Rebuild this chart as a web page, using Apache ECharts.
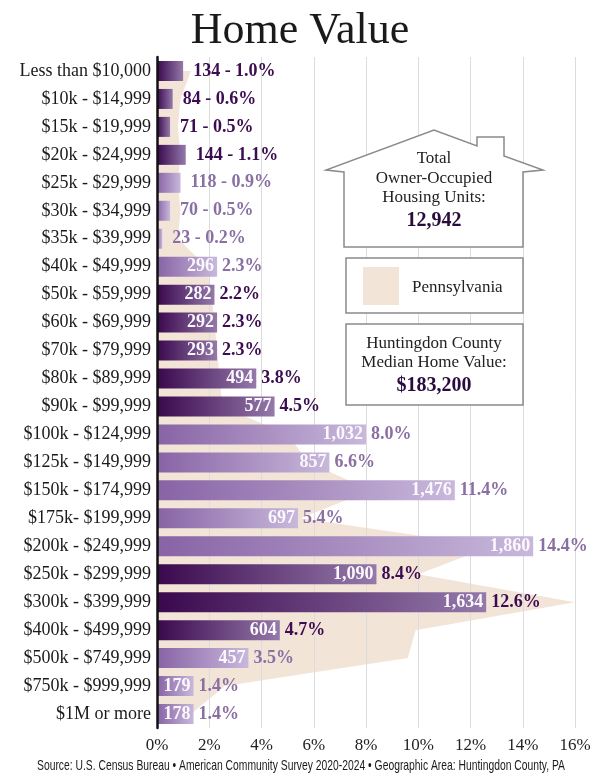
<!DOCTYPE html>
<html>
<head>
<meta charset="utf-8">
<title>Home Value</title>
<script src="https://cdn.jsdelivr.net/npm/echarts@6/dist/echarts.min.js"></script>
<style>
  html, body { margin: 0; padding: 0; background: #fff; }
  #main { width: 600px; height: 783px; }
</style>
</head>
<body>
<div id="main"></div>
<script>
var categories = ['Less than $10,000', '$10k - $14,999', '$15k - $19,999', '$20k - $24,999',
    '$25k - $29,999', '$30k - $34,999', '$35k - $39,999', '$40k - $49,999', '$50k - $59,999',
    '$60k - $69,999', '$70k - $79,999', '$80k - $89,999', '$90k - $99,999', '$100k - $124,999',
    '$125k - $149,999', '$150k - $174,999', '$175k- $199,999', '$200k - $249,999',
    '$250k - $299,999', '$300k - $399,999', '$400k - $499,999', '$500k - $749,999',
    '$750k - $999,999', '$1M or more'];
// Huntingdon County owner-occupied units
var units = [134, 84, 71, 144, 118, 70, 23, 296, 282, 292, 293, 494, 577,
    1032, 857, 1476, 697, 1860, 1090, 1634, 604, 457, 179, 178];
var shares = [1.0, 0.6, 0.5, 1.1, 0.9, 0.5, 0.2, 2.3, 2.2, 2.3, 2.3, 3.8, 4.5,
    8.0, 6.6, 11.4, 5.4, 14.4, 8.4, 12.6, 4.7, 3.5, 1.4, 1.4];
// d = dark bar, l = light bar
var shade = ['d', 'd', 'd', 'd', 'l', 'l', 'l', 'l', 'd', 'd', 'd', 'd', 'd',
    'l', 'l', 'l', 'l', 'l', 'd', 'd', 'd', 'l', 'l', 'l'];
// Pennsylvania share
var paShares = [1.3, 0.9, 0.8, 0.9, 0.8, 0.9, 0.8, 1.9, 2.1, 2.2, 2.3, 2.4, 2.5,
    5.0, 5.8, 8.2, 5.5, 12.8, 10.0, 16.0, 9.9, 9.6, 2.6, 1.3];
var xTicks = [0, 2, 4, 6, 8, 10, 12, 14, 16];
var totalUnits = '12,942';
var medianValue = '$183,200';
var sourceText = 'Source: U.S. Census Bureau \u2022 American Community Survey 2020-2024 \u2022 Geographic Area: Huntingdon County, PA';

var serif = '"Liberation Serif", "DejaVu Serif", serif';
var sans = '"Liberation Sans", "Roboto", sans-serif';
var darkText = '#3b0d50';
var lightText = '#8a6fa3';

var myChart = echarts.init(document.getElementById('main'));

// source line is a condensed face in the original, squeeze it to fit
var ctx = document.createElement('canvas').getContext('2d');
ctx.font = '15px ' + sans;
var sourceScale = 528 / ctx.measureText(sourceText).width;

function barColor(s) {
    if (s === 'd') {
        return new echarts.graphic.LinearGradient(0, 0, 1, 0, [
            { offset: 0, color: '#3a084d' },
            { offset: 1, color: '#9479aa' }
        ]);
    }
    return new echarts.graphic.LinearGradient(0, 0, 1, 0, [
        { offset: 0, color: '#8863a5' },
        { offset: 1, color: '#c8b8db' }
    ]);
}

function fmt(n) {
    return n.toLocaleString('en-US');
}

var barData = shares.map(function (v, i) {
    return { value: v, itemStyle: { color: barColor(shade[i]) } };
});

var labelData = shares.map(function (v, i) {
    return {
        value: v,
        label: {
            color: shade[i] === 'd' ? darkText : lightText,
            distance: i < 7 ? 10 : 5
        }
    };
});

// house outline, legend box and median box on the right
var house = [[344, 172], [326, 170], [434, 130], [477, 146], [477, 137], [504, 137],
    [504, 156], [543, 170], [523, 172], [523, 247], [344, 247]];

option = {
    animation: false,
    backgroundColor: '#fff',
    title: {
        text: 'Home Value',
        left: 'center',
        top: 4,
        textStyle: { fontFamily: serif, fontSize: 44, fontWeight: 'normal', color: '#1a1a1a' }
    },
    grid: { left: 157, right: 25, top: 57, bottom: 55 },
    xAxis: {
        type: 'value',
        min: xTicks[0],
        max: xTicks[xTicks.length - 1],
        interval: 2,
        z: 1,
        axisLine: { show: false },
        axisTick: { show: false },
        splitLine: { lineStyle: { color: '#dcdcdc', width: 1 } },
        axisLabel: {
            formatter: '{value}%',
            margin: 9,
            fontFamily: serif,
            fontSize: 17,
            color: '#222'
        }
    },
    yAxis: {
        type: 'category',
        data: categories,
        inverse: true,
        z: 5,
        axisLine: { lineStyle: { color: '#111', width: 2.5 } },
        axisTick: { show: false },
        axisLabel: { margin: 6, fontFamily: serif, fontSize: 18, color: '#1a1a1a' }
    },
    series: [
        {
            name: 'Pennsylvania',
            type: 'line',
            data: paShares,
            z: 0,
            symbol: 'none',
            silent: true,
            lineStyle: { width: 0 },
            areaStyle: { color: '#f3e4d8', opacity: 1 }
        },
        {
            name: 'Huntingdon County',
            type: 'bar',
            data: barData,
            z: 2,
            barWidth: 20,
            label: {
                show: true,
                position: 'insideRight',
                distance: 3,
                fontFamily: serif,
                fontSize: 18,
                fontWeight: 'bold',
                color: '#fbf8fd',
                formatter: function (p) {
                    return p.dataIndex < 7 ? '' : fmt(units[p.dataIndex]);
                }
            }
        },
        {
            name: 'labels',
            type: 'bar',
            data: labelData,
            z: 3,
            barWidth: 20,
            barGap: '-100%',
            silent: true,
            itemStyle: { color: 'rgba(0,0,0,0)' },
            label: {
                show: true,
                position: 'right',
                fontFamily: serif,
                fontSize: 18,
                fontWeight: 'bold',
                formatter: function (p) {
                    var i = p.dataIndex;
                    var pct = shares[i].toFixed(1) + '%';
                    return i < 7 ? fmt(units[i]) + ' - ' + pct : pct;
                }
            }
        }
    ],
    graphic: [
        {
            type: 'polygon',
            z: 100,
            shape: { points: house },
            style: { fill: '#fff', stroke: '#8a8a8a', lineWidth: 1.5 }
        },
        {
            type: 'text', z: 101, x: 434, y: 159,
            style: { text: 'Total', font: '17px ' + serif, fill: '#222', align: 'center', verticalAlign: 'middle' }
        },
        {
            type: 'text', z: 101, x: 434, y: 179,
            style: { text: 'Owner-Occupied', font: '17px ' + serif, fill: '#222', align: 'center', verticalAlign: 'middle' }
        },
        {
            type: 'text', z: 101, x: 434, y: 198,
            style: { text: 'Housing Units:', font: '17px ' + serif, fill: '#222', align: 'center', verticalAlign: 'middle' }
        },
        {
            type: 'text', z: 101, x: 434, y: 221,
            style: { text: totalUnits, font: 'bold 20px ' + serif, fill: '#2a0b3d', align: 'center', verticalAlign: 'middle' }
        },
        {
            type: 'rect', z: 100,
            shape: { x: 346, y: 258, width: 177, height: 55 },
            style: { fill: '#fff', stroke: '#8a8a8a', lineWidth: 1.5 }
        },
        {
            type: 'rect', z: 101,
            shape: { x: 363, y: 267, width: 36, height: 38 },
            style: { fill: '#f3e4d8' }
        },
        {
            type: 'text', z: 101, x: 412, y: 288,
            style: { text: 'Pennsylvania', font: '17px ' + serif, fill: '#222', align: 'left', verticalAlign: 'middle' }
        },
        {
            type: 'rect', z: 100,
            shape: { x: 346, y: 324, width: 177, height: 81 },
            style: { fill: '#fff', stroke: '#8a8a8a', lineWidth: 1.5 }
        },
        {
            type: 'text', z: 101, x: 434, y: 344,
            style: { text: 'Huntingdon County', font: '17px ' + serif, fill: '#222', align: 'center', verticalAlign: 'middle' }
        },
        {
            type: 'text', z: 101, x: 434, y: 363,
            style: { text: 'Median Home Value:', font: '17px ' + serif, fill: '#222', align: 'center', verticalAlign: 'middle' }
        },
        {
            type: 'text', z: 101, x: 434, y: 386,
            style: { text: medianValue, font: 'bold 20px ' + serif, fill: '#2a0b3d', align: 'center', verticalAlign: 'middle' }
        },
        {
            type: 'text', z: 101, x: 301, y: 766, scaleX: sourceScale,
            style: { text: sourceText, font: '15px ' + sans, fill: '#1a1a1a', align: 'center', verticalAlign: 'middle' }
        }
    ]
};

myChart.setOption(option);
</script>
</body>
</html>
